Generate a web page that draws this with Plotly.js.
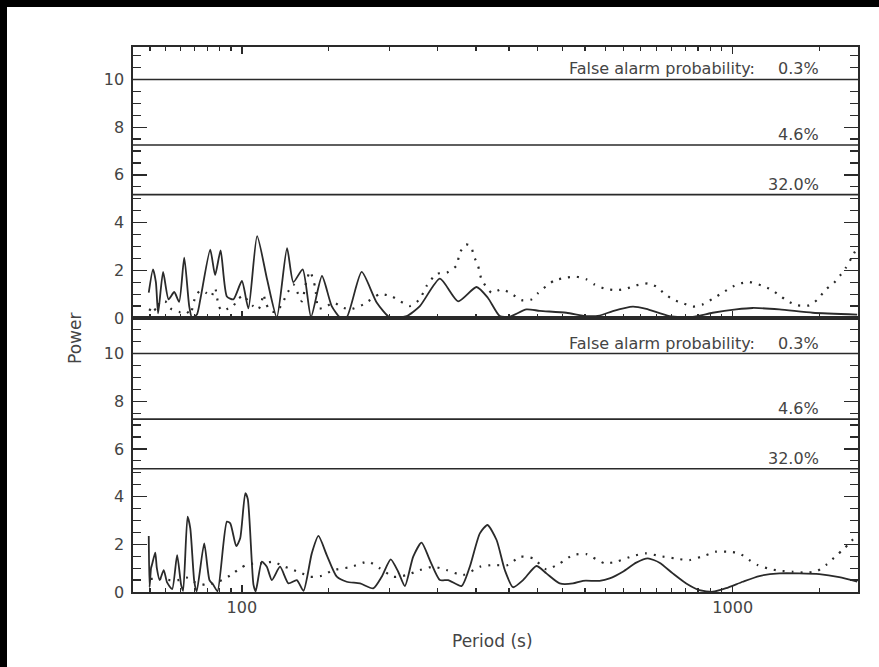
<!DOCTYPE html>
<html>
<head>
<meta charset="utf-8">
<script src="https://cdn.plot.ly/plotly-3.0.1.min.js"></script>
<style>
  html, body { margin: 0; padding: 0; background: #fff; overflow: hidden; }
  #chart { position: absolute; left: 0; top: 0; width: 879px; height: 667px; }
  .barTop { position: absolute; left: 0; top: 0; width: 879px; height: 7px; background: #000; z-index: 10; }
  .barLeft { position: absolute; left: 0; top: 0; width: 7px; height: 667px; background: #000; z-index: 10; }
</style>
</head>
<body>
<div id="chart"></div>
<div class="barTop"></div>
<div class="barLeft"></div>
<script>
// ---------------- data ----------------
const topSolidPeriod = [64.6, 65.9, 66.8, 67.5, 69.1, 70.9, 72.8, 74.5, 76.3, 78.1, 79.1, 81.0, 82.4, 86.2, 88.2, 90.5, 93.2, 96.1, 100, 103.1, 107.4, 112.6, 117.8, 123.6, 127.3, 133.0, 138.3, 145.6, 152.4, 158.5, 163.5, 175.4, 188.2, 200.3, 216.6, 230.5, 253.2, 275.8, 300.6, 317.0, 335.3, 351.4, 379.9, 404.5, 458.3, 503.3, 535.6, 569.9, 626.2, 666.7, 743.5, 829, 910.6, 1016, 1098, 1245, 1455, 1793];
const topSolidPower  = [1.06, 2.04, 1.5, 0.2, 1.93, 0.78, 1.09, 0.68, 2.53, 0.5, 0.02, 0.15, 0.85, 2.86, 1.8, 2.83, 0.9, 0.78, 1.55, 0.4, 3.43, 1.6, 0.03, 2.93, 1.5, 2.04, 0.05, 1.76, 0.5, 0.03, 0.03, 1.93, 0.65, 0.02, 0.08, 0.5, 1.65, 0.7, 1.3, 0.85, 0.08, 0.06, 0.36, 0.3, 0.22, 0.08, 0.1, 0.29, 0.48, 0.38, 0.08, 0.05, 0.22, 0.36, 0.42, 0.36, 0.22, 0.14];

const topDotPeriod = [64.8, 65.7, 66.9, 68.2, 69.8, 71.5, 73.1, 74.9, 77.0, 78.5, 80.4, 82.3, 84.6, 86.6, 88.2, 89.7, 91.2, 93.8, 96.0, 98.3, 100.8, 103.0, 105.4, 107.9, 109.5, 110.6, 112.0, 114.2, 117.4, 120.8, 124.2, 127.3, 129.6, 132.5, 135.2, 137.7, 141.0, 143.2, 147.7, 153.6, 160.0, 166.1, 176.8, 191.1, 202.2, 209.9, 220.0, 230.5, 237.8, 249.3, 261.6, 273.7, 278.0, 285.9, 292.7, 296.9, 302.9, 307.8, 322.6, 338.0, 351.4, 371.2, 389.0, 401.2, 417.3, 433.8, 458.3, 480.3, 503.3, 523.2, 548.3, 579.1, 606.9, 636.0, 671.6, 698.5, 726.2, 755.0, 791.3, 829, 868.9, 910.6, 954.2, 1000, 1032, 1081, 1142, 1197, 1245, 1294, 1356, 1432, 1489, 1549, 1610, 1662, 1701, 1744, 1793];
const topDotPower  = [0.3, 0.5, 0.3, 0.7, 0.7, 0.4, 0.3, 0.25, 0.3, 0.15, 0.9, 1.15, 1.05, 0.9, 1.25, 0.5, 0.3, 0.4, 0.5, 0.8, 0.95, 0.7, 0.5, 0.35, 0.6, 1.0, 0.6, 0.3, 0.25, 0.6, 1.1, 1.41, 1.1, 0.7, 1.5, 1.95, 1.3, 0.4, 0.45, 0.65, 0.45, 0.36, 0.57, 1.0, 0.9, 0.71, 0.5, 0.8, 1.34, 1.85, 1.9, 2.2, 2.74, 3.08, 3.02, 2.6, 2.18, 1.62, 1.06, 1.2, 1.06, 0.75, 0.78, 1.04, 1.34, 1.58, 1.69, 1.73, 1.62, 1.4, 1.23, 1.17, 1.23, 1.37, 1.45, 1.32, 1.02, 0.78, 0.62, 0.48, 0.57, 0.81, 1.06, 1.32, 1.44, 1.51, 1.37, 1.2, 0.95, 0.71, 0.53, 0.53, 0.78, 1.2, 1.48, 1.83, 2.11, 2.5, 2.95];

const botSolidPeriod = [64.6, 64.85, 65.3, 65.6, 66.6, 67.1, 68.0, 69.3, 70.4, 72.1, 73.8, 75.2, 75.9, 77.5, 78.5, 80.0, 80.9, 83.8, 85.9, 87.5, 89.2, 93.2, 94.7, 97.4, 99.2, 101.6, 102.8, 105.6, 106.7, 109.8, 112.4, 115.1, 119.6, 124.4, 129.4, 133.5, 138.8, 143.2, 148.9, 156.1, 163.5, 174.1, 185.2, 192.7, 201.0, 208.2, 214.8, 223.4, 232.3, 241.5, 253.2, 263.2, 280.3, 291.3, 305.4, 316.5, 330.3, 343.3, 356.8, 374.0, 398.2, 417.3, 444.1, 472.7, 495.3, 535.6, 561.3, 597.3, 636.0, 671.6, 709.4, 755.0, 804.1, 855.6, 910.6, 969.6, 1048, 1133, 1245, 1367, 1501, 1648, 1793];
const botSolidPower  = [2.35, 0.2, 1.0, 1.15, 1.65, 1.0, 0.5, 0.92, 0.4, 0.12, 1.55, 0.3, 0.05, 3.16, 2.67, 0.43, 0.03, 2.04, 0.5, 0.29, 0.03, 2.95, 2.88, 1.92, 2.25, 4.14, 3.9, 0.3, 0.03, 1.27, 1.06, 0.5, 1.06, 0.36, 0.5, 0.05, 1.62, 2.35, 1.55, 0.64, 0.43, 0.36, 0.15, 0.64, 1.37, 0.85, 0.25, 1.48, 2.07, 1.34, 0.5, 0.5, 0.25, 1.06, 2.46, 2.81, 2.18, 0.92, 0.2, 0.5, 1.09, 0.78, 0.36, 0.36, 0.47, 0.47, 0.57, 0.85, 1.23, 1.41, 1.23, 0.78, 0.36, 0.08, 0.01, 0.16, 0.43, 0.67, 0.78, 0.78, 0.75, 0.62, 0.43];

const botDotPeriod = [65.1, 68.2, 71.5, 74.2, 77.3, 80.4, 84.2, 87.5, 91.2, 94.7, 99.3, 102.5, 106.4, 110.6, 116.0, 120.8, 126.4, 132.5, 137.7, 145.4, 153.6, 166.1, 180.9, 191.1, 203.4, 216.6, 230.5, 245.4, 261.2, 282.4, 305.4, 325.1, 348.6, 368.3, 391.9, 417.3, 444.1, 472.7, 503.3, 519.1, 531.4, 548.3, 579.1, 626.2, 666.7, 709.4, 761.1, 816.6, 883.0, 925.3, 977.3, 1032, 1081, 1124, 1178, 1245, 1325, 1410, 1489, 1549, 1623, 1674, 1728, 1793];
const botDotPower  = [0.55, 0.55, 0.5, 0.5, 0.6, 0.4, 0.3, 0.36, 0.5, 0.7, 1.0, 1.15, 1.2, 1.2, 1.27, 1.1, 0.95, 0.78, 0.64, 0.68, 0.92, 1.04, 1.27, 0.99, 0.64, 0.71, 0.92, 1.06, 0.92, 0.71, 1.06, 1.13, 1.13, 1.48, 1.41, 0.95, 1.2, 1.55, 1.59, 1.45, 1.34, 1.2, 1.27, 1.51, 1.62, 1.51, 1.41, 1.34, 1.55, 1.69, 1.69, 1.62, 1.34, 1.13, 0.99, 0.89, 0.85, 0.81, 0.89, 1.13, 1.51, 1.76, 2.04, 2.4];

const fapLevels = [10.0, 7.25, 5.17];
const fapLabels = ["0.3%", "4.6%", "32.0%"];
const fapTitle = "False alarm probability:";
const xTickVals = [100, 1000];
const xTickText = ["100", "1000"];
const xMinorVals = [65, 70, 75, 80, 85, 90, 95, 150, 200, 250, 300, 350, 400, 450, 500, 550, 600, 650, 700, 750, 800, 850, 900, 950, 1500];
const yTickVals = [0, 2, 4, 6, 8, 10];
const periodRange = [60, 1800];

// ---------------- styling ----------------
const ink = '#2a2a2a';
const textInk = '#444';
const fontFam = 'DejaVu Sans, sans-serif';

function curve(x, y, xa, ya, dotted) {
  return {
    x: x, y: y, xaxis: xa, yaxis: ya, type: 'scatter', mode: 'lines',
    line: { color: ink, width: dotted ? 2.2 : 1.8, dash: dotted ? '2px,7px' : 'solid', shape: 'spline', smoothing: 0.6 },
    hoverinfo: 'skip', showlegend: false
  };
}

const data = [
  curve(topDotPeriod, topDotPower, 'x2', 'y2', true),
  curve(topSolidPeriod, topSolidPower, 'x2', 'y2', false),
  curve(botDotPeriod, botDotPower, 'x', 'y', true),
  curve(botSolidPeriod, botSolidPower, 'x', 'y', false)
];

const split = 274 / 545;
const xr = [Math.log10(periodRange[0]), Math.log10(periodRange[1])];

function xAxis(anchor, showLabels, mirror) {
  return {
    type: 'log', range: xr, anchor: anchor,
    tickmode: 'array', tickvals: xTickVals, ticktext: xTickText,
    showticklabels: showLabels,
    ticks: 'inside', ticklen: 7, tickwidth: 1.3, tickcolor: ink,
    minor: { tickmode: 'array', tickvals: xMinorVals, ticks: 'inside', ticklen: 4, tickwidth: 1.2, tickcolor: ink, showgrid: false },
    showline: true, linecolor: ink, linewidth: 1.6, mirror: mirror,
    showgrid: false, zeroline: false,
    tickfont: { family: fontFam, size: 16, color: textInk }
  };
}
function yAxis(anchor, domain, top) {
  return {
    domain: domain, range: [0, top], anchor: anchor,
    tickmode: 'array', tickvals: yTickVals,
    ticks: 'inside', ticklen: 14, tickwidth: 1.3, tickcolor: ink,
    minor: { tickmode: 'linear', tick0: 0, dtick: 0.5, ticks: 'inside', ticklen: 8, tickwidth: 1.2, tickcolor: ink, showgrid: false },
    showline: true, linecolor: ink, linewidth: 1.6, mirror: 'allticks',
    showgrid: false, zeroline: false, ticklabelstandoff: 4,
    tickfont: { family: fontFam, size: 16, color: textInk }
  };
}

const shapes = [];
const annotations = [];
['y', 'y2'].forEach((yref) => {
  fapLevels.forEach((lv, i) => {
    shapes.push({ type: 'line', xref: 'paper', yref: yref, x0: 0, x1: 1, y0: lv, y1: lv,
      line: { color: ink, width: 1.6 } });
    annotations.push({ xref: 'paper', yref: yref, x: 0.949, y: lv, xanchor: 'right', yanchor: 'bottom',
      text: fapLabels[i], showarrow: false, yshift: -1, font: { family: fontFam, size: 16, color: textInk } });
  });
  annotations.push({ xref: 'paper', yref: yref, x: 0.861, y: fapLevels[0], xanchor: 'right', yanchor: 'bottom',
    text: fapTitle, showarrow: false, yshift: -1, font: { family: fontFam, size: 16, color: textInk } });
});
annotations.push({ xref: 'paper', yref: 'paper', x: (75 - 133) / 725, y: (592 - 339) / 545, xanchor: 'center', yanchor: 'middle',
  text: 'Power', textangle: -90, showarrow: false, font: { family: fontFam, size: 17, color: textInk } });
annotations.push({ xref: 'paper', yref: 'paper', x: (492 - 133) / 725, y: (592 - 641) / 545, xanchor: 'center', yanchor: 'middle',
  text: 'Period (s)', showarrow: false, font: { family: fontFam, size: 17, color: textInk } });

const layout = {
  width: 879, height: 667,
  margin: { l: 133, r: 21, t: 47, b: 75 },
  paper_bgcolor: '#fff', plot_bgcolor: '#fff',
  xaxis: xAxis('y', true, true),
  xaxis2: xAxis('y2', false, 'allticks'),
  yaxis: yAxis('x', [0, split], 11.49),
  yaxis2: yAxis('x2', [split, 1], 11.36),
  shapes: shapes, annotations: annotations,
  showlegend: false
};

Plotly.newPlot('chart', data, layout, { displayModeBar: false, staticPlot: true });
</script>
</body>
</html>
